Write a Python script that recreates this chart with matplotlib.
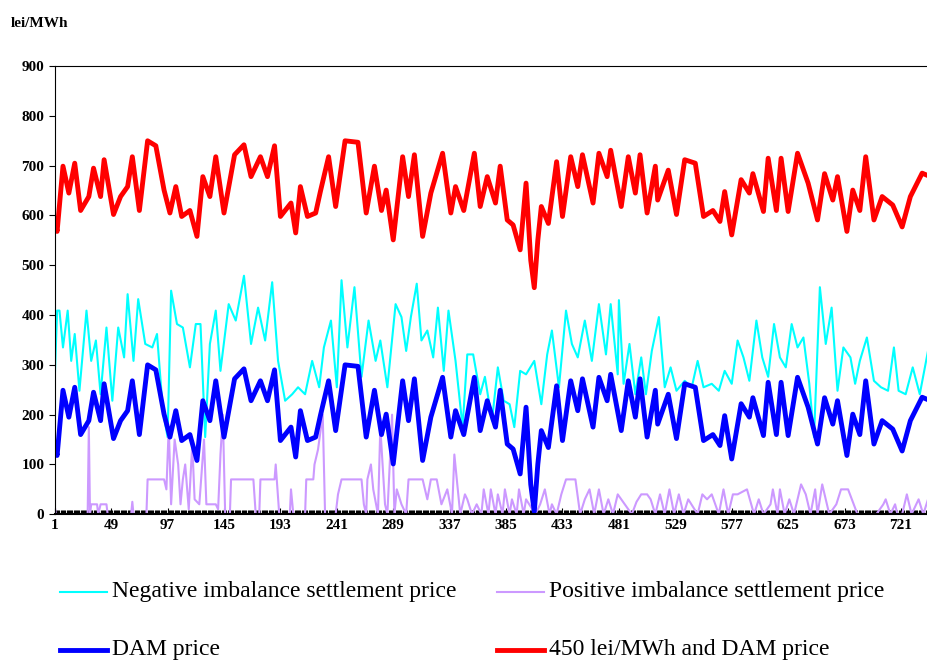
import matplotlib
matplotlib.use("Agg")
import matplotlib.pyplot as plt
from matplotlib.lines import Line2D
import numpy as np

dam_h = [1,3,8,13,18,23,30,34,40,43,51,57,63,67,73,80,87,94,99,104,109,116,122,127,133,138,145,154,162,168,176,182,188,193,202,206,210,216,223,227,234,240,248,259,266,273,279,283,289,297,302,307,314,321,331,338,342,349,358,363,369,376,380,386,391,397,402,406,409,412,415,421,428,433,440,446,450,459,464,471,474,483,489,495,499,505,512,514,523,530,537,546,553,561,567,571,577,585,592,595,604,608,615,619,625,633,642,650,656,663,667,675,680,686,691,698,705,714,722,729,739,744]
dam_v = [140,118,249,195,255,160,188,245,188,262,152,188,208,268,160,300,290,201,155,208,148,160,108,228,188,268,155,272,292,228,268,228,290,148,175,115,208,148,155,198,268,168,300,297,155,249,160,201,101,268,188,272,108,195,275,155,208,160,275,168,228,175,249,141,131,81,215,60,5,100,168,134,258,148,268,208,272,175,275,228,281,168,268,195,272,155,249,181,241,152,262,255,148,160,138,198,111,222,195,234,158,265,160,265,158,275,215,141,234,181,228,118,201,160,268,141,188,171,127,188,235,230]

neg_h = [1,3,5,8,12,15,18,22,28,32,36,40,45,50,55,60,63,68,72,78,84,88,93,97,100,105,110,116,121,125,129,133,138,142,149,155,162,168,174,180,186,191,197,203,208,214,220,226,230,236,241,245,250,256,262,268,274,278,284,291,296,300,304,309,313,318,323,327,332,336,342,348,352,357,363,367,373,378,383,388,392,397,402,409,415,420,424,430,436,441,446,452,458,464,470,474,480,481,485,490,495,500,504,509,515,520,525,530,537,543,548,553,560,566,571,577,582,587,592,598,603,608,613,618,623,628,633,638,643,647,652,657,662,667,672,678,682,686,692,698,704,710,715,719,725,731,737,744]
neg_v = [272,409,409,335,409,308,362,248,409,308,349,241,375,228,375,315,442,308,432,342,335,362,208,155,449,382,375,295,382,382,155,342,409,288,422,389,479,342,415,349,466,308,228,241,255,241,308,255,335,389,255,470,335,456,276,389,308,349,255,422,396,328,396,463,349,369,315,415,288,409,308,175,321,321,241,276,188,295,228,221,175,288,281,308,221,321,369,255,409,342,315,389,308,422,321,422,281,430,262,342,241,315,241,328,396,255,295,248,268,255,308,255,262,248,288,262,349,315,268,389,315,276,382,315,295,382,335,355,262,155,456,342,415,248,335,315,262,308,355,268,255,248,335,248,241,295,241,328]

pos_pts = [(1,15),(2,0),(29,0),(30,175),(31,0),(32,20),(37,20),(38,0),(40,20),(45,20),(46,0),(66,0),(67,25),(68,0),
           (79,0),(80,70),(94,70),(96,50),(98,175),(100,20),(103,150),(106,100),(108,20),(110,70),(112,100),(115,10),
           (118,140),(120,30),(124,20),(128,150),(130,20),(138,20),(140,10),(142,120),(144,200),(146,0),(150,0),(151,70),
           (170,70),(172,0),(175,0),(176,70),(188,70),(189,100),(192,0),(201,0),(202,50),(204,0),(214,0),(215,70),
           (221,70),(222,100),(225,130),(229,200),(231,0),(240,0),(242,40),(245,70),(262,70),(264,20),(266,0),(267,70),
           (270,100),(272,50),(276,0),(278,175),(282,20),(284,0),(288,200),(290,0),(292,50),(296,20),(300,0),(302,70),
           (314,70),(318,30),(321,70),(326,70),(330,20),(335,50),(339,0),(341,120),(346,0),(350,40),(352,30),(356,0),
           (360,20),(364,0),(366,50),(370,0),(372,50),(376,0),(378,40),(382,0),(384,50),(388,0),(390,30),(394,0),
           (396,50),(400,0),(402,30),(410,0),(414,20),(418,50),(422,0),(424,20),(428,0),(432,40),(436,70),(444,70),
           (448,0),(452,30),(456,50),(460,0),(464,50),(468,0),(472,30),(476,0),(480,40),(486,20),(492,0),(496,25),
           (500,40),(505,40),(508,30),(512,0),(516,40),(520,0),(524,50),(528,0),(532,40),(536,0),(540,30),(548,0),
           (552,40),(556,30),(560,40),(566,0),(570,50),(574,0),(578,40),(582,40),(590,50),(596,0),(600,30),(604,0),
           (610,20),(612,50),(616,0),(618,50),(622,0),(626,30),(630,0),(636,60),(640,40),(644,0),(648,50),(650,0),
           (654,60),(660,0),(666,20),(670,50),(676,50),(684,0),(700,0),(706,20),(708,30),(712,0),(716,20),(718,0),
           (722,0),(726,40),(730,0),(736,30),(740,0),(744,30)]
pos_h = [p[0] for p in pos_pts]
pos_v = [p[1] for p in pos_pts]

red_offset = 450
xticks = list(range(1, 745, 48))

fig = plt.figure(figsize=(9.28, 6.61), dpi=100)
ax = fig.add_axes([0.059, 0.222, 0.941, 0.678])
ser = "Liberation Serif"
l1, = ax.plot(neg_h, neg_v, color="#00ffff", lw=1.5, label="Negative imbalance settlement price")
l2, = ax.plot(pos_h, pos_v, color="#cc99ff", lw=1.5, label="Positive imbalance settlement price")
l3, = ax.plot(dam_h, dam_v, color="#0000ff", lw=3.5, label="DAM price")
l4, = ax.plot(dam_h, np.array(dam_v) + red_offset, color="#ff0000", lw=3.5, label="450 lei/MWh and DAM price")
ax.set_xlim(1, 744)
ax.set_ylim(0, 900)
ax.set_yticks(range(0, 901, 100))
ax.set_xticks(xticks)
ax.set_xticks(range(1, 745), minor=True)
ax.tick_params(axis="x", which="minor", length=3, direction="in", width=0.8)
ax.tick_params(axis="x", which="major", length=4, direction="in")
ax.tick_params(axis="y", length=4, direction="out")
for lab in ax.get_xticklabels() + ax.get_yticklabels():
    lab.set_fontfamily(ser); lab.set_fontweight("bold"); lab.set_fontsize(11)
ax.spines["right"].set_visible(False)
ax.spines["bottom"].set_linewidth(1.5)
fig.text(0.012, 0.965, "lei/MWh", fontfamily=ser, fontweight="bold", fontsize=11, va="center")

W, H = 928, 661
slots = [(l1, 60, 592), (l2, 497, 592), (l3, 60, 650), (l4, 497, 650)]
for ln, px, py in slots:
    fy = 1 - py / H
    fig.add_artist(Line2D([px / W, (px + 47) / W], [fy, fy], color=ln.get_color(),
                          lw=ln.get_linewidth(), transform=fig.transFigure))
    fig.text((px + 52) / W, fy, ln.get_label(), fontfamily=ser, fontsize=17, va="center")
fig.savefig("out.png", dpi=100)
